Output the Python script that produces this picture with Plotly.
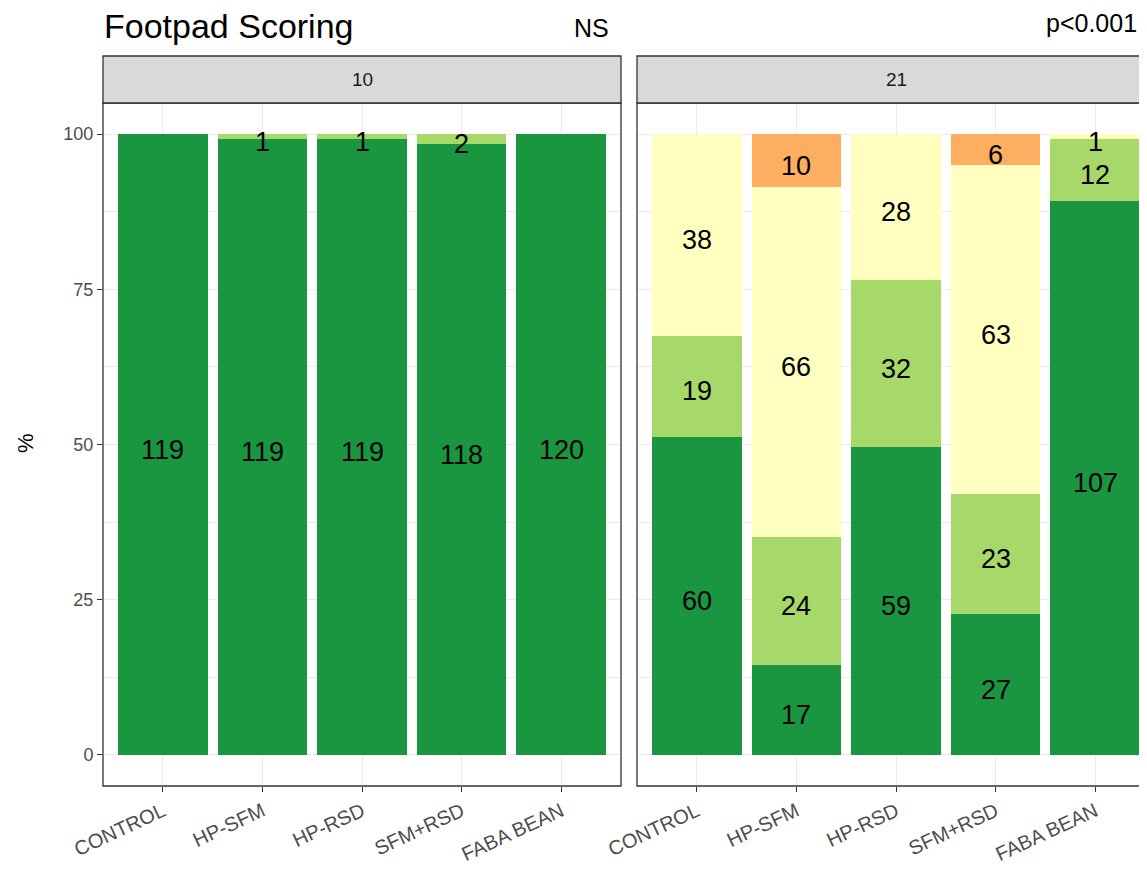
"""Footpad scoring — stacked % bars per diet, faceted by day (10 / 21)."""

import plotly.graph_objects as go

groups = ["CONTROL", "HP-SFM", "HP-RSD", "SFM+RSD", "FABA BEAN"]
days = ["10", "21"]
scores = ["0", "1", "2", "3"]

# counts per score, one list per group order above
day10_score0 = [119, 119, 119, 118, 120]
day10_score1 = [0, 1, 1, 2, 0]
day10_score2 = [0, 0, 0, 0, 0]
day10_score3 = [0, 0, 0, 0, 0]

day21_score0 = [60, 17, 59, 27, 107]
day21_score1 = [19, 24, 32, 23, 12]
day21_score2 = [38, 66, 28, 63, 1]
day21_score3 = [0, 10, 0, 6, 0]

pvalues = ["NS", "p<0.001"]

_SCORE_COLOR = ["#1a9641", "#a6d96a", "#ffffbf", "#fdae61"]

# the page body adds an 8px margin, so work in screen pixels and shift
OFF = 8
W, H = 1147 - OFF, 871 - OFF
L, T = 103 - OFF, 56 - OFF
R = 0
B = H - (786 - OFF)
PW = W - L - R
PH = H - T - B


def px_x(px):
    return (px - OFF - L) / PW


def px_y(py):
    return (H - B - (py - OFF)) / PH


panels = [
    [day10_score0, day10_score1, day10_score2, day10_score3],
    [day21_score0, day21_score1, day21_score2, day21_score3],
]

annotations = []
fig = go.Figure()
for p, counts in enumerate(panels):
    xa = "x" if p == 0 else "x2"
    ya = "y" if p == 0 else "y2"
    totals = [sum(c[g] for c in counts) for g in range(len(groups))]
    pct = [[c[g] / totals[g] * 100 for g in range(len(groups))] for c in counts]
    for s, vals in enumerate(pct):
        fig.add_trace(go.Bar(
            x=groups, y=vals, xaxis=xa, yaxis=ya,
            marker=dict(color=_SCORE_COLOR[s], line=dict(width=0)),
            name=scores[s], showlegend=False, hoverinfo="skip",
        ))
    # count labels at the middle of each segment
    for g in range(len(groups)):
        base = 0
        for s in range(len(scores)):
            v = pct[s][g]
            if counts[s][g] > 0:
                annotations.append(dict(
                    x=groups[g], y=base + v / 2, xref=xa, yref=ya,
                    text=str(counts[s][g]), showarrow=False, yshift=-5,
                    xanchor="center", yanchor="middle",
                    font=dict(size=27, color="#000000"),
                ))
            base += v

# panel / strip boxes (screen pixels of the reference)
p1 = (103, 621)
p2 = (637, 1170)
shapes = []
for x0, x1 in (p1, p2):
    shapes.append(dict(type="rect", xref="paper", yref="paper",
                       x0=px_x(x0), x1=px_x(x1), y0=px_y(786), y1=px_y(103),
                       line=dict(color="#333333", width=1.3), fillcolor="rgba(0,0,0,0)",
                       layer="above"))
    shapes.append(dict(type="rect", xref="paper", yref="paper",
                       x0=px_x(x0), x1=px_x(x1), y0=px_y(103), y1=px_y(56),
                       line=dict(color="#333333", width=1.3), fillcolor="#d9d9d9"))

annotations += [
    dict(text="Footpad Scoring", x=px_x(102), y=px_y(26), xref="paper", yref="paper",
         xanchor="left", yanchor="middle", showarrow=False,
         font=dict(size=34, color="#000000")),
    dict(text=pvalues[0], x=px_x(611), y=px_y(28), xref="paper", yref="paper",
         xanchor="right", yanchor="middle", showarrow=False,
         font=dict(size=25, color="#000000")),
    dict(text=pvalues[1], x=px_x(1139), y=px_y(23), xref="paper", yref="paper",
         xanchor="right", yanchor="middle", showarrow=False,
         font=dict(size=25, color="#000000")),
    dict(text=days[0], x=px_x(362), y=px_y(80), xref="paper", yref="paper",
         xanchor="center", yanchor="middle", showarrow=False,
         font=dict(size=19, color="#1a1a1a")),
    dict(text=days[1], x=px_x(896), y=px_y(80), xref="paper", yref="paper",
         xanchor="center", yanchor="middle", showarrow=False,
         font=dict(size=19, color="#1a1a1a")),
    dict(text="%", x=px_x(25), y=px_y(443), xref="paper", yref="paper",
         xanchor="center", yanchor="middle", showarrow=False, textangle=-90,
         font=dict(size=22, color="#000000")),
]

unit = (621 - 103) / 5.2
xcommon = dict(
    type="category", categoryorder="array", categoryarray=groups,
    showgrid=True, gridcolor="#ebebeb", gridwidth=1,
    ticks="outside", ticklen=5, tickcolor="#333333", tickwidth=1.2,
    tickangle=-25, tickfont=dict(size=20, color="#4d4d4d"),
    showline=False, zeroline=False,
)
ycommon = dict(
    range=[-5, 105], tickvals=[0, 25, 50, 75, 100],
    showgrid=True, gridcolor="#ebebeb", gridwidth=1,
    minor=dict(tickvals=[12.5, 37.5, 62.5, 87.5], showgrid=True,
               gridcolor="#ebebeb", gridwidth=0.5),
    zeroline=False, showline=False,
    domain=[0, px_y(103)],
)

fig.update_layout(
    width=W, height=H,
    margin=dict(l=L, r=R, t=T, b=B),
    barmode="stack", bargap=0.1,
    paper_bgcolor="white", plot_bgcolor="white",
    font=dict(family="Liberation Sans, Arial, sans-serif"),
    showlegend=False,
    xaxis=dict(xcommon, domain=[px_x(103), px_x(621)], range=[-0.6, 4.6], anchor="y"),
    xaxis2=dict(xcommon, domain=[px_x(637), 1.0],
                range=[-0.6, -0.6 + (1147 - 637) / unit], anchor="y2"),
    yaxis=dict(ycommon, anchor="x", ticks="outside", ticklen=5, tickcolor="#333333",
               tickwidth=1.2, tickfont=dict(size=18, color="#4d4d4d")),
    yaxis2=dict(ycommon, anchor="x2", matches="y", showticklabels=False, ticks=""),
    shapes=shapes,
    annotations=annotations,
)

fig.write_html("out.html")
